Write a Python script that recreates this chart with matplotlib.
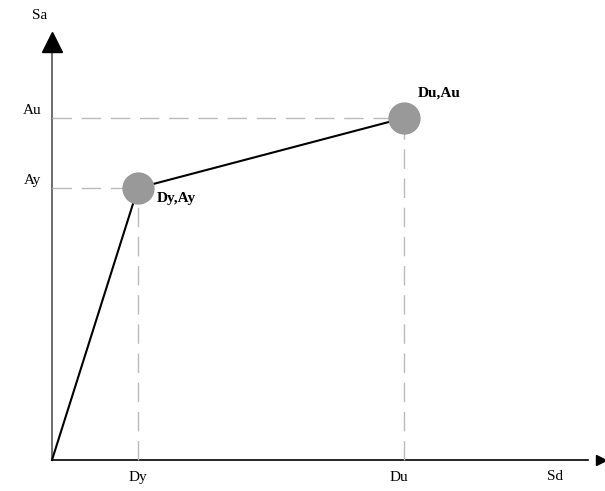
import matplotlib.pyplot as plt

# capacity curve (arbitrary units, roughly pixel scale)
sd = [0, 86, 352]
sa = [0, 272, 342]
point_labels = ["", "Dy,Ay", "Du,Au"]
x_ticks = ["Dy", "Du"]
y_ticks = ["Au", "Ay"]

plt.rcParams['font.family'] = ['Liberation Serif', 'DejaVu Serif']

fig = plt.figure(figsize=(6.05, 4.91), dpi=100)
ax = fig.add_axes([0, 0, 1, 1])
ax.set_xlim(-52, 553)
ax.set_ylim(-31, 460)
ax.axis('off')

# axes
ax.plot([0, 0], [0, 410], color='#555555', lw=1.2)
ax.plot([0], [418], marker='^', ms=15, color='black', clip_on=False)
ax.plot([0, 536], [0, 0], color='black', lw=1.2)
ax.plot([549], [0], marker='>', ms=7, color='black', clip_on=False)
ax.text(-12, 438, "Sa", fontsize=11, ha='center', va='bottom')
ax.text(503, -10, "Sd", fontsize=11, ha='center', va='top')

# guide lines
for x, y in zip(sd[1:], sa[1:]):
    ax.plot([0, x], [y, y], color='#bbbbbb', lw=1, dashes=(14, 7))
    ax.plot([x, x], [0, y], color='#bbbbbb', lw=1, dashes=(14, 7))

ax.text(sd[1], -11, x_ticks[0], fontsize=11, ha='center', va='top')
ax.text(sd[2] - 5, -11, x_ticks[1], fontsize=11, ha='center', va='top')
ax.text(-20, sa[2] + 8, y_ticks[0], fontsize=11, ha='center', va='center')
ax.text(-20, sa[1] + 8, y_ticks[1], fontsize=11, ha='center', va='center')

# curve
ax.plot(sd, sa, color='black', lw=1.5, zorder=3)
ax.scatter(sd[1:], sa[1:], s=540, color='#999999', zorder=4, linewidths=0)

ax.text(sd[1] + 19, sa[1] - 10, point_labels[1], fontsize=11, fontweight='bold',
        ha='left', va='center')
ax.text(sd[2] + 14, sa[2] + 25, point_labels[2], fontsize=11, fontweight='bold',
        ha='left', va='center')

fig.savefig("out.png", dpi=100)
